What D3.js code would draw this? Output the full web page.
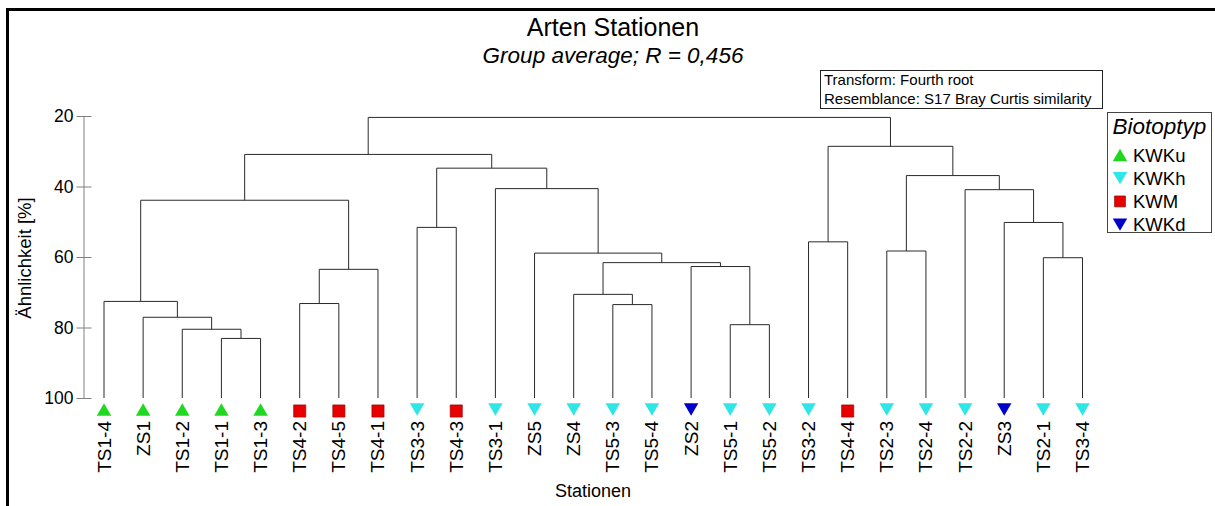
<!DOCTYPE html>
<html>
<head>
<meta charset="utf-8">
<script src="https://cdn.jsdelivr.net/npm/d3@7"></script>
<style>
  html, body { margin: 0; padding: 0; background: #fff; }
  svg { display: block; font-family: "Liberation Sans", Arial, sans-serif; }
</style>
</head>
<body>
<svg id="chart" width="1215" height="506"></svg>
<script>
// ---- data ----
const leaves = ["TS1-4","ZS1","TS1-2","TS1-1","TS1-3","TS4-2","TS4-5","TS4-1","TS3-3","TS4-3",
  "TS3-1","ZS5","ZS4","TS5-3","TS5-4","ZS2","TS5-1","TS5-2","TS3-2","TS4-4",
  "TS2-3","TS2-4","TS2-2","ZS3","TS2-1","TS3-4"];
const biotope = ["KWKu","KWKu","KWKu","KWKu","KWKu","KWM","KWM","KWM","KWKh","KWM",
  "KWKh","KWKh","KWKh","KWKh","KWKh","KWKd","KWKh","KWKh","KWKh","KWM",
  "KWKh","KWKh","KWKh","KWKd","KWKh","KWKh"];
// merges: [left, right, similarity]; merge i is referred to as "m"+i
const merges = [
  ["TS1-1","TS1-3",83.1], // m0
  ["TS1-2","m0",80.5],    // m1
  ["ZS1","m1",77.1],      // m2
  ["TS1-4","m2",72.6],    // m3
  ["TS4-2","TS4-5",73.2], // m4
  ["m4","TS4-1",63.5],    // m5
  ["m3","m5",43.9],       // m6
  ["TS3-3","TS4-3",51.6], // m7
  ["TS5-3","TS5-4",73.5], // m8
  ["ZS4","m8",70.6],      // m9
  ["TS5-1","TS5-2",79.2], // m10
  ["ZS2","m10",62.7],     // m11
  ["m9","m11",61.6],      // m12
  ["ZS5","m12",58.9],     // m13
  ["TS3-1","m13",40.6],   // m14
  ["m7","m14",34.8],      // m15
  ["m6","m15",30.9],      // m16
  ["TS3-2","TS4-4",55.7], // m17
  ["TS2-3","TS2-4",58.3], // m18
  ["TS2-1","TS3-4",60.2], // m19
  ["ZS3","m19",50.2],     // m20
  ["TS2-2","m20",40.9],   // m21
  ["m18","m21",36.9],     // m22
  ["m17","m22",28.6],     // m23
  ["m16","m23",20.4]      // m24
];
const simTicks = [20, 40, 60, 80, 100];
const legendItems = ["KWKu","KWKh","KWM","KWKd"];
const legendTitle = "Biotoptyp";
const titleText = "Arten Stationen";
const subtitleText = "Group average; R = 0,456";
const infoLines = ["Transform: Fourth root", "Resemblance: S17 Bray Curtis similarity"];
const xTitle = "Stationen";
const yTitle = "Ähnlichkeit [%]";

// ---- styles ----
const colors = { KWKu: "#1fd81f", KWKh: "#2ee6e6", KWM: "#e80000", KWKd: "#0000c8" };
const shapes = { KWKu: "up", KWKh: "down", KWM: "square", KWKd: "down" };
const lineColor = "#2a2a2a";

const svg = d3.select("#chart");
svg.append("rect").attr("width", 1215).attr("height", 506).attr("fill", "#fff");

// frame (top + left)
svg.append("line").attr("x1", 6).attr("x2", 1215).attr("y1", 9.5).attr("y2", 9.5)
  .attr("stroke", "#000").attr("stroke-width", 3);
svg.append("line").attr("x1", 7.5).attr("x2", 7.5).attr("y1", 8).attr("y2", 506)
  .attr("stroke", "#000").attr("stroke-width", 3);

// scales
const x = d3.scalePoint().domain(leaves).range([104, 1082.5]);
const y = d3.scaleLinear().domain([20, 100]).range([116, 398]);

// text helper with optional stretch along reading direction
function txt(g, x0, y0, s, size, opts = {}) {
  const sx = opts.sx || 1, rot = opts.rot || 0;
  return g.append("text")
    .attr("transform", `translate(${x0},${y0}) rotate(${rot}) scale(${sx},1)`)
    .attr("font-size", size)
    .attr("font-style", opts.italic ? "italic" : "normal")
    .attr("text-anchor", opts.anchor || "start")
    .attr("fill", "#000")
    .text(s);
}

// titles
txt(svg, 613, 36, titleText, 25, { anchor: "middle" });
txt(svg, 613, 63, subtitleText, 22.5, { anchor: "middle", italic: true });

// info box
svg.append("rect").attr("x", 820.5).attr("y", 70.5).attr("width", 282).attr("height", 38)
  .attr("fill", "#fff").attr("stroke", "#222").attr("stroke-width", 1);
infoLines.forEach((l, i) => txt(svg, 824, 85 + i * 19, l, 15));

// y axis
const axis = d3.axisLeft(y).tickValues(simTicks).tickSizeInner(7).tickSizeOuter(0).tickPadding(3);
const ag = svg.append("g").attr("transform", "translate(83.5,0)").call(axis);
ag.select(".domain").attr("stroke", "#808080");
ag.selectAll(".tick line").attr("stroke", "#808080").attr("x1", 8).attr("x2", -7);
ag.selectAll(".tick text").attr("font-size", 17.5).attr("fill", "#000")
  .attr("font-family", "'Liberation Sans', Arial, sans-serif");

txt(svg, 31, 258, yTitle, 18.5, { rot: -90, anchor: "middle" });
txt(svg, 593, 497, xTitle, 18, { anchor: "middle" });

// ---- dendrogram ----
const pos = {};
leaves.forEach(l => pos[l] = { x: x(l), h: 100 });
const dg = svg.append("g").attr("fill", "none").attr("stroke", lineColor).attr("stroke-width", 1);
merges.forEach((m, i) => {
  const a = pos[m[0]], b = pos[m[1]], h = m[2];
  const p = d3.path();
  p.moveTo(a.x, y(a.h)); p.lineTo(a.x, y(h)); p.lineTo(b.x, y(h)); p.lineTo(b.x, y(b.h));
  dg.append("path").attr("d", p.toString());
  pos["m" + i] = { x: (a.x + b.x) / 2, h };
});

// marker helper
function marker(g, cx, cy, type, w) {
  const h = w * 0.85;
  const p = d3.path();
  if (type === "up") {
    p.moveTo(cx, cy - h / 2); p.lineTo(cx + w / 2, cy + h / 2); p.lineTo(cx - w / 2, cy + h / 2); p.closePath();
  } else if (type === "down") {
    p.moveTo(cx - w / 2, cy - h / 2); p.lineTo(cx + w / 2, cy - h / 2); p.lineTo(cx, cy + h / 2); p.closePath();
  } else {
    const s = w * 0.84;
    p.rect(cx - s / 2, cy - s / 2, s, s);
  }
  return g.append("path").attr("d", p.toString());
}

const mg = svg.append("g");
leaves.forEach((l, i) => {
  const t = biotope[i];
  const cy = shapes[t] === "square" ? 411 : 409.5;
  marker(mg, x(l), cy, shapes[t], 14.5)
    .attr("fill", colors[t])
    .attr("stroke", shapes[t] === "square" ? "#8a0000" : "none")
    .attr("stroke-width", 0.6);
  txt(mg, x(l) + 6.5, 421, l, 18.5, { rot: -90, anchor: "end", sx: 1.03 });
});

// ---- legend ----
const lg = svg.append("g");
lg.append("rect").attr("x", 1107.5).attr("y", 112.5).attr("width", 104).attr("height", 120)
  .attr("fill", "#fff").attr("stroke", "#444").attr("stroke-width", 1);
txt(lg, 1112.5, 134, legendTitle, 22.5, { italic: true });
legendItems.forEach((t, i) => {
  const cy = 155 + i * 23.2;
  marker(lg, 1120, cy, shapes[t], shapes[t] === "square" ? 13 : 14.5)
    .attr("fill", colors[t])
    .attr("stroke", shapes[t] === "square" ? "#8a0000" : "none")
    .attr("stroke-width", 0.6);
  txt(lg, 1133, cy + 6.5, t, 18.5);
});
</script>
</body>
</html>
